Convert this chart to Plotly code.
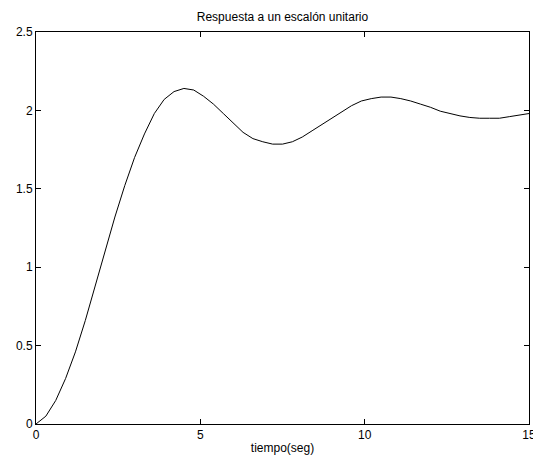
import plotly.graph_objects as go

# Sample times (s) and step response values
tiempo = [0.0, 0.3, 0.6, 0.9, 1.2, 1.5, 1.8, 2.1, 2.4, 2.7, 3.0, 3.3, 3.6, 3.9, 4.2, 4.5,
          4.8, 5.1, 5.4, 5.7, 6.0, 6.3, 6.6, 6.9, 7.2, 7.5, 7.8, 8.1, 8.4, 8.7, 9.0, 9.3,
          9.6, 9.9, 10.2, 10.5, 10.8, 11.1, 11.4, 11.7, 12.0, 12.3, 12.6, 12.9, 13.2, 13.5,
          13.8, 14.1, 14.4, 14.7, 15.0]
respuesta = [0.0, 0.05, 0.15, 0.29, 0.46, 0.66, 0.88, 1.10, 1.32, 1.52, 1.70, 1.85, 1.98,
             2.07, 2.12, 2.14, 2.13, 2.09, 2.04, 1.98, 1.92, 1.86, 1.82, 1.80, 1.785, 1.785,
             1.80, 1.83, 1.87, 1.91, 1.95, 1.99, 2.03, 2.06, 2.075, 2.085, 2.085, 2.075, 2.06,
             2.04, 2.02, 1.995, 1.98, 1.965, 1.955, 1.95, 1.95, 1.95, 1.96, 1.97, 1.98]

x_ticks = [0, 5, 10, 15]
y_ticks = [0, 0.5, 1, 1.5, 2, 2.5]
y_tick_text = ["0", "0.5", "1", "1.5", "2", "2.5"]

fig = go.Figure()
fig.add_trace(go.Scatter(x=tiempo, y=respuesta, mode="lines",
                         line=dict(color="black", width=1), showlegend=False))

font = dict(family="Liberation Sans, Arial, sans-serif", size=12, color="black")
fig.update_layout(
    width=533, height=459,
    margin=dict(l=36, r=4, t=32, b=35, autoexpand=False),
    paper_bgcolor="white", plot_bgcolor="white",
    font=font,
    title=dict(text="Respuesta a un escalón unitario", x=0.5, xref="paper",
               y=1 - 17 / 459, yanchor="middle", font=dict(size=12, color="black")),
)
fig.update_xaxes(range=[0, 15], tickvals=x_ticks, ticktext=[str(v) for v in x_ticks],
                 ticks="inside", ticklen=5, tickcolor="black", showline=True,
                 linecolor="black", linewidth=1, mirror="ticks", showgrid=False,
                 zeroline=False, ticklabeloverflow="allow", ticklabelstandoff=0,
                 automargin=False,
                 title=dict(text="tiempo(seg)", standoff=2, font=dict(size=12)))
fig.update_yaxes(range=[0, 2.5], tickvals=y_ticks, ticktext=y_tick_text,
                 ticks="inside", ticklen=5, tickcolor="black", showline=True,
                 linecolor="black", linewidth=1, mirror="ticks", showgrid=False,
                 zeroline=False, automargin=False)

fig.write_html("out.html")
